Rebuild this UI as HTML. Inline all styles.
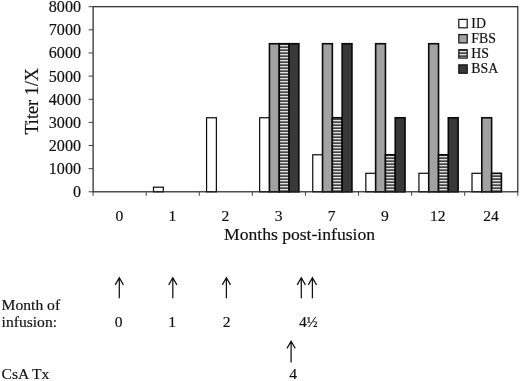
<!DOCTYPE html>
<html><head><meta charset="utf-8"><title>Titer chart</title>
<style>
html,body{margin:0;padding:0;background:#fff;}
body{width:520px;height:381px;overflow:hidden;}
svg{display:block;}
text{font-family:"Liberation Serif","Times New Roman",serif;fill:#111;stroke:#111;stroke-width:0.18px;}
.t{font-size:15.6px;}
.a{font-size:17.6px;}
.l{font-size:13.8px;}
</style></head><body>
<svg width="520" height="381" viewBox="0 0 520 381">
<defs><pattern id="hs" x="0" y="0" width="4" height="3" patternUnits="userSpaceOnUse"><rect width="4" height="3" fill="#484848"/><rect y="0" width="4" height="1.3" fill="#dedede"/></pattern></defs>
<rect x="0" y="0" width="520" height="381" fill="#fff"/>
<rect x="153.49" y="187.17" width="9.80" height="4.63" fill="#ffffff" stroke="#0a0a0a" stroke-width="1.2"/>
<rect x="206.57" y="117.76" width="9.80" height="74.04" fill="#ffffff" stroke="#0a0a0a" stroke-width="1.2"/>
<rect x="259.66" y="117.76" width="9.80" height="74.04" fill="#ffffff" stroke="#0a0a0a" stroke-width="1.2"/>
<rect x="269.46" y="43.72" width="9.80" height="148.08" fill="#a2a2a2" stroke="#0a0a0a" stroke-width="1.6"/>
<rect x="279.26" y="43.72" width="9.80" height="148.08" fill="url(#hs)" stroke="#0a0a0a" stroke-width="1.6"/>
<rect x="289.06" y="43.72" width="9.80" height="148.08" fill="#383838" stroke="#0a0a0a" stroke-width="1.6"/>
<rect x="312.75" y="154.78" width="9.80" height="37.02" fill="#ffffff" stroke="#0a0a0a" stroke-width="1.2"/>
<rect x="322.55" y="43.72" width="9.80" height="148.08" fill="#a2a2a2" stroke="#0a0a0a" stroke-width="1.6"/>
<rect x="332.35" y="117.76" width="9.80" height="74.04" fill="url(#hs)" stroke="#0a0a0a" stroke-width="1.6"/>
<rect x="342.15" y="43.72" width="9.80" height="148.08" fill="#383838" stroke="#0a0a0a" stroke-width="1.6"/>
<rect x="365.84" y="173.29" width="9.80" height="18.51" fill="#ffffff" stroke="#0a0a0a" stroke-width="1.2"/>
<rect x="375.64" y="43.72" width="9.80" height="148.08" fill="#a2a2a2" stroke="#0a0a0a" stroke-width="1.6"/>
<rect x="385.44" y="154.78" width="9.80" height="37.02" fill="url(#hs)" stroke="#0a0a0a" stroke-width="1.6"/>
<rect x="395.24" y="117.76" width="9.80" height="74.04" fill="#383838" stroke="#0a0a0a" stroke-width="1.6"/>
<rect x="418.93" y="173.29" width="9.80" height="18.51" fill="#ffffff" stroke="#0a0a0a" stroke-width="1.2"/>
<rect x="428.73" y="43.72" width="9.80" height="148.08" fill="#a2a2a2" stroke="#0a0a0a" stroke-width="1.6"/>
<rect x="438.53" y="154.78" width="9.80" height="37.02" fill="url(#hs)" stroke="#0a0a0a" stroke-width="1.6"/>
<rect x="448.32" y="117.76" width="9.80" height="74.04" fill="#383838" stroke="#0a0a0a" stroke-width="1.6"/>
<rect x="472.01" y="173.29" width="9.80" height="18.51" fill="#ffffff" stroke="#0a0a0a" stroke-width="1.2"/>
<rect x="481.81" y="117.76" width="9.80" height="74.04" fill="#a2a2a2" stroke="#0a0a0a" stroke-width="1.6"/>
<rect x="491.61" y="173.29" width="9.80" height="18.51" fill="url(#hs)" stroke="#0a0a0a" stroke-width="1.6"/>
<rect x="93.1" y="6.7" width="424.70" height="185.10" fill="none" stroke="#222" stroke-width="1.2"/>
<line x1="88.6" y1="191.80" x2="93.1" y2="191.80" stroke="#444" stroke-width="1"/>
<text class="t" style="font-size:16.1px" x="81" y="197.30" text-anchor="end">0</text>
<line x1="88.6" y1="168.66" x2="93.1" y2="168.66" stroke="#444" stroke-width="1"/>
<text class="t" style="font-size:16.1px" x="81" y="174.16" text-anchor="end">1000</text>
<line x1="88.6" y1="145.53" x2="93.1" y2="145.53" stroke="#444" stroke-width="1"/>
<text class="t" style="font-size:16.1px" x="81" y="151.03" text-anchor="end">2000</text>
<line x1="88.6" y1="122.39" x2="93.1" y2="122.39" stroke="#444" stroke-width="1"/>
<text class="t" style="font-size:16.1px" x="81" y="127.89" text-anchor="end">3000</text>
<line x1="88.6" y1="99.25" x2="93.1" y2="99.25" stroke="#444" stroke-width="1"/>
<text class="t" style="font-size:16.1px" x="81" y="104.75" text-anchor="end">4000</text>
<line x1="88.6" y1="76.11" x2="93.1" y2="76.11" stroke="#444" stroke-width="1"/>
<text class="t" style="font-size:16.1px" x="81" y="81.61" text-anchor="end">5000</text>
<line x1="88.6" y1="52.97" x2="93.1" y2="52.97" stroke="#444" stroke-width="1"/>
<text class="t" style="font-size:16.1px" x="81" y="58.47" text-anchor="end">6000</text>
<line x1="88.6" y1="29.84" x2="93.1" y2="29.84" stroke="#444" stroke-width="1"/>
<text class="t" style="font-size:16.1px" x="81" y="35.34" text-anchor="end">7000</text>
<line x1="88.6" y1="6.70" x2="93.1" y2="6.70" stroke="#444" stroke-width="1"/>
<text class="t" style="font-size:16.1px" x="81" y="12.20" text-anchor="end">8000</text>
<line x1="93.10" y1="191.8" x2="93.10" y2="195.8" stroke="#444" stroke-width="1"/>
<line x1="146.19" y1="191.8" x2="146.19" y2="195.8" stroke="#444" stroke-width="1"/>
<line x1="199.27" y1="191.8" x2="199.27" y2="195.8" stroke="#444" stroke-width="1"/>
<line x1="252.36" y1="191.8" x2="252.36" y2="195.8" stroke="#444" stroke-width="1"/>
<line x1="305.45" y1="191.8" x2="305.45" y2="195.8" stroke="#444" stroke-width="1"/>
<line x1="358.54" y1="191.8" x2="358.54" y2="195.8" stroke="#444" stroke-width="1"/>
<line x1="411.62" y1="191.8" x2="411.62" y2="195.8" stroke="#444" stroke-width="1"/>
<line x1="464.71" y1="191.8" x2="464.71" y2="195.8" stroke="#444" stroke-width="1"/>
<line x1="517.80" y1="191.8" x2="517.80" y2="195.8" stroke="#444" stroke-width="1"/>
<text class="t" x="119.34" y="220.8" text-anchor="middle">0</text>
<text class="t" x="172.43" y="220.8" text-anchor="middle">1</text>
<text class="t" x="225.52" y="220.8" text-anchor="middle">2</text>
<text class="t" x="278.61" y="220.8" text-anchor="middle">3</text>
<text class="t" x="331.69" y="220.8" text-anchor="middle">7</text>
<text class="t" x="384.78" y="220.8" text-anchor="middle">9</text>
<text class="t" x="437.87" y="220.8" text-anchor="middle">12</text>
<text class="t" x="490.96" y="220.8" text-anchor="middle">24</text>
<text class="a" x="224" y="239.6">Months post-infusion</text>
<text class="a" style="font-size:18.2px" transform="translate(38.4,134.6) rotate(-90)">Titer 1/X</text>
<rect x="458.8" y="19.40" width="8.4" height="8.4" fill="#ffffff" stroke="#111" stroke-width="1.2"/>
<text class="l" x="471.3" y="27.90">ID</text>
<rect x="458.8" y="34.55" width="8.4" height="8.4" fill="#a2a2a2" stroke="#111" stroke-width="1.2"/>
<text class="l" x="471.3" y="43.05">FBS</text>
<rect x="458.8" y="49.70" width="8.4" height="8.4" fill="url(#hs)" stroke="#111" stroke-width="1.2"/>
<text class="l" x="471.3" y="58.20">HS</text>
<rect x="458.8" y="64.85" width="8.4" height="8.4" fill="#383838" stroke="#111" stroke-width="1.2"/>
<text class="l" x="471.3" y="73.35">BSA</text>
<path d="M119.3 298.2V278.00M115.20 284.90L119.3 277.80L123.40 284.90" fill="none" stroke="#111" stroke-width="1.25" stroke-linejoin="miter"/>
<path d="M172.8 298.2V278.00M168.70 284.90L172.8 277.80L176.90 284.90" fill="none" stroke="#111" stroke-width="1.25" stroke-linejoin="miter"/>
<path d="M226.4 298.2V278.00M222.30 284.90L226.4 277.80L230.50 284.90" fill="none" stroke="#111" stroke-width="1.25" stroke-linejoin="miter"/>
<path d="M301.3 298.2V278.00M297.20 284.90L301.3 277.80L305.40 284.90" fill="none" stroke="#111" stroke-width="1.25" stroke-linejoin="miter"/>
<path d="M312.4 298.2V278.00M308.30 284.90L312.4 277.80L316.50 284.90" fill="none" stroke="#111" stroke-width="1.25" stroke-linejoin="miter"/>
<path d="M291.1 362.4V341.50M287.00 348.40L291.1 341.30L295.20 348.40" fill="none" stroke="#111" stroke-width="1.25" stroke-linejoin="miter"/>
<text class="t" x="1.6" y="310.0">Month of</text>
<text class="t" x="1.6" y="326.8">infusion:</text>
<text class="t" x="1.6" y="378.9">CsA Tx</text>
<text class="t" x="118.7" y="326.8" text-anchor="middle">0</text>
<text class="t" x="172.2" y="326.8" text-anchor="middle">1</text>
<text class="t" x="226.6" y="326.8" text-anchor="middle">2</text>
<text class="t" x="299" y="326.8">4<tspan style="font-size:14.4px">½</tspan></text>
<text class="t" x="293.2" y="379.4" text-anchor="middle">4</text>
</svg>
</body></html>
